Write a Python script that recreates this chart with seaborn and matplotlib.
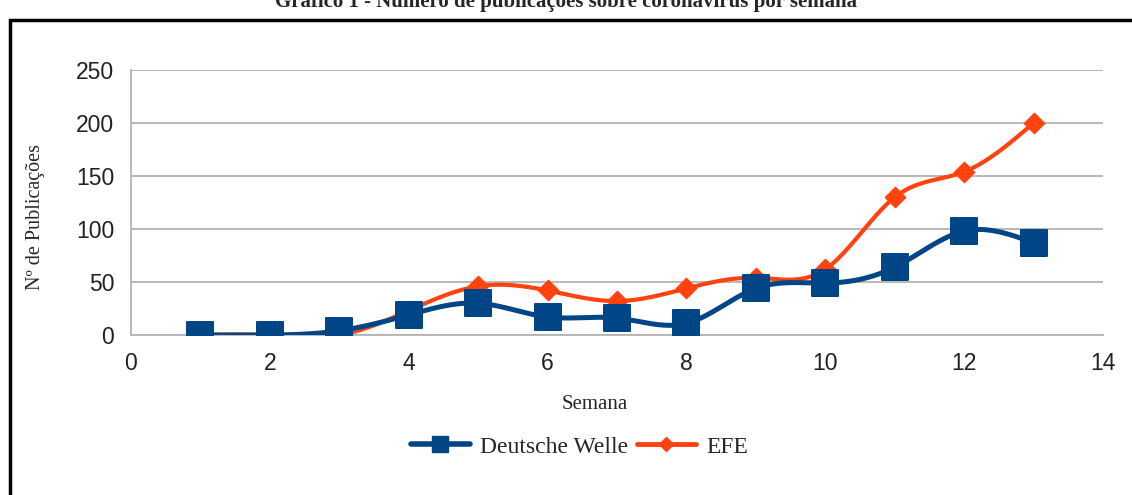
import numpy as np
import pandas as pd
import matplotlib
matplotlib.use("Agg")
import matplotlib.pyplot as plt
import seaborn as sns
from matplotlib.lines import Line2D
from matplotlib.patches import Rectangle

# Data
semanas = [1, 2, 3, 4, 5, 6, 7, 8, 9, 10, 11, 12, 13]
deutsche_welle = [0, 0, 4, 19, 30, 17, 16, 11, 44, 49, 64, 98, 87]
efe = [0, 0, 0, 23, 46, 42, 32, 44, 54, 62, 130, 154, 200]

DW_COLOR = "#004586"
EFE_COLOR = "#ff420e"


def spline(x, y, n=400):
    # natural cubic spline, only used to draw the smoothed line
    x = np.asarray(x, float)
    y = np.asarray(y, float)
    k = len(x)
    h = np.diff(x)
    A = np.zeros((k, k))
    b = np.zeros(k)
    A[0, 0] = A[-1, -1] = 1
    for i in range(1, k - 1):
        A[i, i - 1] = h[i - 1]
        A[i, i] = 2 * (h[i - 1] + h[i])
        A[i, i + 1] = h[i]
        b[i] = 6 * ((y[i + 1] - y[i]) / h[i] - (y[i] - y[i - 1]) / h[i - 1])
    M = np.linalg.solve(A, b)
    xs = np.linspace(x[0], x[-1], n)
    idx = np.clip(np.searchsorted(x, xs) - 1, 0, k - 2)
    x0, x1 = x[idx], x[idx + 1]
    hh = x1 - x0
    ys = (M[idx] * (x1 - xs) ** 3 / (6 * hh) + M[idx + 1] * (xs - x0) ** 3 / (6 * hh)
          + (y[idx] / hh - M[idx] * hh / 6) * (x1 - xs)
          + (y[idx + 1] / hh - M[idx + 1] * hh / 6) * (xs - x0))
    return xs, ys


sns.set_style("white")
plt.rcParams["font.family"] = ["Liberation Sans", "DejaVu Sans"]

fig = plt.figure(figsize=(11.32, 4.95), dpi=100)
ax = fig.add_axes([0.1157, 0.3232, 0.8587, 0.5354])

df = pd.DataFrame({"Semana": semanas, "Deutsche Welle": deutsche_welle, "EFE": efe})

# smoothed lines
for col, color, lw in [("Deutsche Welle", DW_COLOR, 3.6), ("EFE", EFE_COLOR, 3.0)]:
    xs, ys = spline(df["Semana"], df[col])
    sns.lineplot(x=xs, y=ys, ax=ax, color=color, linewidth=lw, zorder=3 if col == "EFE" else 4)

# markers
sns.scatterplot(data=df, x="Semana", y="EFE", ax=ax, marker="D", s=110,
                color=EFE_COLOR, edgecolor=EFE_COLOR, zorder=5)
sns.scatterplot(data=df, x="Semana", y="Deutsche Welle", ax=ax, marker="s", s=330,
                color=DW_COLOR, edgecolor=DW_COLOR, zorder=6)

ax.set_xlim(0, 14)
ax.set_ylim(0, 250)
ax.set_xticks(range(0, 15, 2))
ax.set_yticks(range(0, 251, 50))
ax.grid(axis="y", color="#b3b3b3", linewidth=1.3)
ax.set_axisbelow(True)
for s in ["top", "right"]:
    ax.spines[s].set_visible(False)
for s in ["left", "bottom"]:
    ax.spines[s].set_color("#b3b3b3")
    ax.spines[s].set_linewidth(1.3)
ax.spines["bottom"].set_zorder(0)
ax.tick_params(axis="both", direction="out", length=8, width=1.3, color="#b3b3b3",
               labelsize=16.5, labelcolor="#222222", pad=4)

ax.set_xlabel("Semana", fontfamily="Liberation Serif", fontsize=15)
ax.set_ylabel("Nº de Publicações", fontfamily="Liberation Serif", fontsize=14.5)
ax.xaxis.set_label_coords(0.477, -0.225)
ax.yaxis.set_label_coords(-0.088, 0.445)

handles = [
    Line2D([], [], color=DW_COLOR, linewidth=4.0, marker="s", markersize=11),
    Line2D([], [], color=EFE_COLOR, linewidth=3.5, marker="D", markersize=7),
]
fig.legend(handles, ["Deutsche Welle", "EFE"], loc="center", bbox_to_anchor=(0.512, 0.097),
           ncol=2, frameon=False, handlelength=2.5, columnspacing=0.35, handletextpad=0.45,
           prop={"family": "Liberation Serif", "size": 17})

# frame around the chart
fig.patches.append(Rectangle((10 / 1132, -0.05), 1.2, 1.03 - 10 / 495, transform=fig.transFigure,
                             fill=False, edgecolor="black", linewidth=2.5))

fig.text(0.5, 0.995, "Gráfico 1 - Número de publicações sobre coronavírus por semana",
         ha="center", va="center", fontfamily="Liberation Serif", fontweight="bold", fontsize=15)

fig.savefig("out.png", dpi=100, facecolor="white")
